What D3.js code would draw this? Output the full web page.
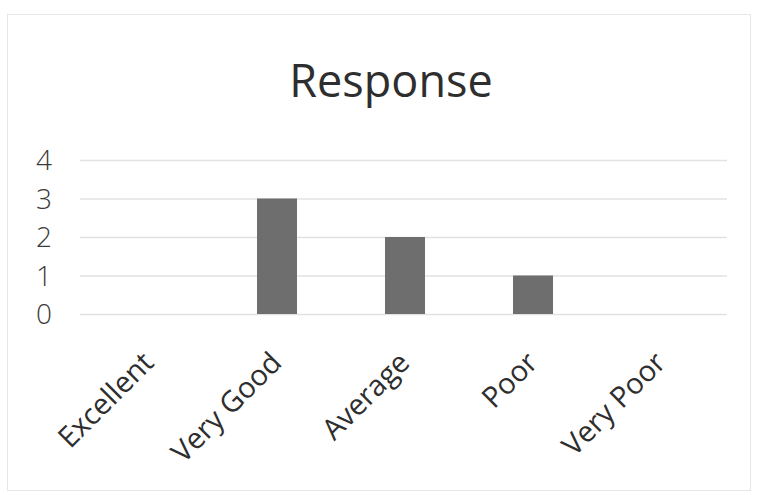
<!DOCTYPE html>
<html>
<head>
<meta charset="utf-8">
<script src="https://cdn.jsdelivr.net/npm/d3@7"></script>
<style>
    body { margin: 0; background: #fff; }
    text { font-family: "Open Sans", sans-serif; }
</style>
</head>
<body>
<svg id="chart" width="758" height="495"></svg>
<script>
// Response chart - counts per rating
const categories = ['Excellent', 'Very Good', 'Average', 'Poor', 'Very Poor'];
const counts = [0, 3, 2, 1, 0];
const yTicks = [0, 1, 2, 3, 4];
const chartTitle = 'Response';

const width = 758, height = 495;
const svg = d3.select('#chart');

// faint chart-area border like the scanned original
svg.append('rect')
    .attr('x', 7.5).attr('y', 14.5)
    .attr('width', 743).attr('height', 476)
    .attr('fill', 'none')
    .attr('stroke', '#e6e6e6');

const x = d3.scaleBand()
    .domain(categories)
    .range([85, 725])
    .paddingInner(0.6875)
    .paddingOuter(0.34375);

const y = d3.scaleLinear()
    .domain([0, 4])
    .range([314, 160]);

// Gridlines
svg.append('g')
    .selectAll('line')
    .data(yTicks)
    .enter()
    .append('line')
    .attr('x1', 80)
    .attr('x2', 727)
    .attr('y1', d => y(d) + 0.5)
    .attr('y2', d => y(d) + 0.5)
    .attr('stroke', '#e2e2e2')
    .attr('stroke-width', 1.5);

// Y tick labels
svg.append('g')
    .selectAll('text')
    .data(yTicks)
    .enter()
    .append('text')
    .attr('x', 52)
    .attr('y', d => y(d))
    .attr('dy', '0.36em')
    .attr('text-anchor', 'end')
    .attr('fill', '#3a3a3a')
    .attr('font-size', '28px')
    .attr('font-weight', 300)
    .text(d => d);

// Bars
svg.append('g')
    .selectAll('rect')
    .data(categories)
    .enter()
    .append('rect')
    .attr('x', d => x(d))
    .attr('width', x.bandwidth())
    .attr('y', (d, i) => y(counts[i]))
    .attr('height', (d, i) => y(0) - y(counts[i]))
    .attr('fill', '#6e6e6e');

// Category labels, rotated
svg.append('g')
    .selectAll('text')
    .data(categories)
    .enter()
    .append('text')
    .attr('transform', d => `translate(${x(d) + x.bandwidth() / 2 - 8}, 350) rotate(-45)`)
    .attr('text-anchor', 'end')
    .attr('dy', '0.7em')
    .attr('fill', '#2e2e2e')
    .attr('font-size', '29px')
    .text(d => d);

// Title
svg.append('text')
    .attr('x', 391)
    .attr('y', 97)
    .attr('text-anchor', 'middle')
    .attr('fill', '#2e2e2e')
    .attr('font-size', '45px')
    .text(chartTitle);
</script>
</body>
</html>
